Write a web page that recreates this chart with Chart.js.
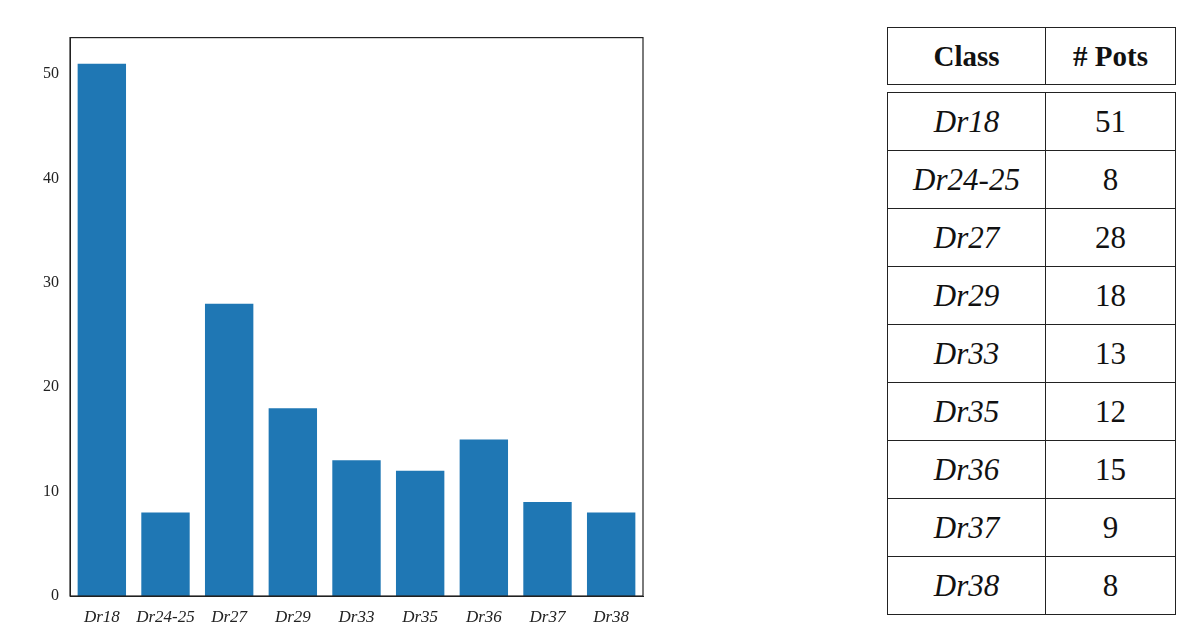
<!DOCTYPE html>
<html><head><meta charset="utf-8">
<script src="https://cdn.jsdelivr.net/npm/chart.js"></script>
<style>
body{margin:0;background:#fff;width:1194px;height:642px;position:relative;overflow:hidden;font-family:"Liberation Serif",serif}
#wrap{position:absolute;left:20px;top:25px;width:625px;height:606px}
table{position:absolute;left:887px;border-collapse:collapse;font-size:31px;color:#111}
td{border-left:1.5px solid #222;border-right:1.5px solid #222;text-align:center;padding:0}
#head{top:27px}
#head td{border-top:1.5px solid #222;border-bottom:1.5px solid #222;height:56px;font-weight:bold;font-size:29px}
#body{top:92px}
#body tr:first-child td{border-top:1.5px solid #222}
#body tr:last-child td{border-bottom:1.5px solid #222}
#body td{height:57px}
.c1{width:157px}.c2{width:129px}
</style></head><body>
<div id="wrap"><canvas id="c"></canvas></div>
<table id="head"><tr><td class="c1">Class</td><td class="c2"># Pots</td></tr></table>
<table id="body"></table>
<script>
const classes=["Dr18","Dr24-25","Dr27","Dr29","Dr33","Dr35","Dr36","Dr37","Dr38"];
const pots=[51,8,28,18,13,12,15,9,8];
const yTicks=[0,10,20,30,40,50];

let tb=document.getElementById("body");
classes.forEach((c,i)=>{
  tb.innerHTML+=`<tr><td class="c1"><i>${c}</i></td><td class="c2">${pots[i]}</td></tr>`;
});

const frame={id:"frame",afterDraw(ch){
  const a=ch.chartArea,x=ch.ctx;
  x.save();x.strokeStyle="#222";x.lineWidth=1.2;
  x.strokeRect(a.left,a.top,a.right-a.left,a.bottom-a.top);x.restore();
}};
new Chart(document.getElementById("c"),{
  type:"bar",
  data:{labels:classes,datasets:[{data:pots,backgroundColor:"#1f77b4",barPercentage:0.76,categoryPercentage:1}]},
  options:{
    responsive:true,maintainAspectRatio:false,animation:false,
    layout:{padding:{top:10,right:2}},
    plugins:{legend:{display:false},tooltip:{enabled:false}},
    scales:{
      x:{grid:{display:false},border:{color:"#222"},
         ticks:{color:"#222",maxRotation:0,autoSkip:false,font:{family:"Liberation Serif",size:17,style:"italic"}},
         afterFit(s){s.height=35}},
      y:{min:0,max:53.5,grid:{display:false,drawTicks:true},border:{color:"#222"},
         afterBuildTicks(s){s.ticks=yTicks.map(v=>({value:v}))},
         ticks:{color:"#222",font:{family:"Liberation Serif",size:16}},
         afterFit(s){s.width=50}}
    }
  },
  plugins:[frame]
});
</script></body></html>
